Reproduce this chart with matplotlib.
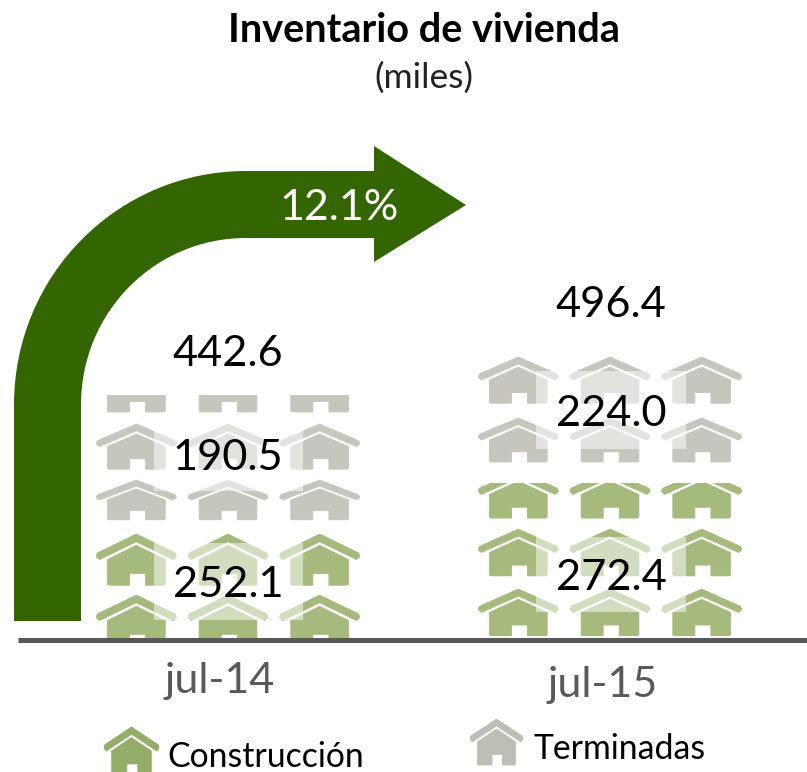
import matplotlib
matplotlib.use("Agg")
import matplotlib.pyplot as plt
from matplotlib.path import Path
from matplotlib.patches import PathPatch, Rectangle
from matplotlib.transforms import Affine2D

plt.rcParams['font.family'] = ['Lato', 'DejaVu Sans']

# ---- data -----
categories = ["jul-14", "jul-15"]
construccion = [252.1, 272.4]
terminadas = [190.5, 224.0]
totales = [442.6, 496.4]
variacion = "12.1%"
# rows of pictogram houses, (bottom, top) in thousands
filas_constr = [[(-14.5, 78), (96, 189)],
                [(4, 89), (113, 198), (218, 304)]]
filas_term = [[(215, 287), (307, 389), (411, 493)],
              [(320, 400), (427, 511)]]
tope_constr = [600, 282]
tope_term = [442.6, 600]
piso_term = [205, 310]

VERDE = "#A6BA7E"
GRIS = "#C6C6BE"
VERDE_LEY = "#94AD68"
GRIS_LEY = "#BEBEB6"
OSCURO = "#336600"
LINEA = "#595959"

W, H = 807, 772
fig = plt.figure(figsize=(W / 100, H / 100), dpi=100)

# chart axes: full figure, category x scale, value y scale
PX_X0, PX_X1, PX_BASE, K = 228.0, 610.0, 638.0, 0.55
ax = fig.add_axes([0, 0, 1, 1])
ux = PX_X1 - PX_X0
ax.set_xlim(-PX_X0 / ux, (W - PX_X0) / ux)
ax.set_ylim((PX_BASE - H) / K, PX_BASE / K)
ax.axis("off")

# overlay axes in pixels for annotations
ov = fig.add_axes([0, 0, 1, 1], facecolor="none")
ov.set_xlim(0, W)
ov.set_ylim(H, 0)
ov.axis("off")


def house_path():
    M, L, C = Path.MOVETO, Path.LINETO, Path.CLOSEPOLY
    roof = [(0.5, 1.0), (0.985, 0.63), (1.0, 0.56), (0.96, 0.50), (0.5, 0.85),
            (0.04, 0.50), (0.0, 0.56), (0.015, 0.63), (0.5, 1.0)]
    body = [(0.5, 0.78), (0.86, 0.50), (0.86, 0.02), (0.84, 0.0), (0.615, 0.0), (0.615, 0.23),
            (0.415, 0.23), (0.415, 0.0), (0.16, 0.0), (0.14, 0.02), (0.14, 0.50), (0.5, 0.78)]
    verts = roof + body
    codes = [M] + [L] * (len(roof) - 2) + [C] + [M] + [L] * (len(body) - 2) + [C]
    return Path(verts, codes)


HOUSE = house_path()
OFFSETS = [-0.24, 0.0, 0.24]
HW = 0.21


def draw_rows(i, rows, color, low, high):
    clip = Rectangle((i - 0.5, low), 1.0, high - low, transform=ax.transData)
    for b, t in rows:
        for off in OFFSETS:
            tr = Affine2D().scale(HW, t - b).translate(i + off - HW / 2, b) + ax.transData
            p = PathPatch(HOUSE, facecolor=color, edgecolor=color, lw=0.6, transform=tr)
            ax.add_patch(p)
            p.set_clip_path(clip)


for i in range(2):
    draw_rows(i, filas_constr[i], VERDE, 0, tope_constr[i])
    draw_rows(i, filas_term[i], GRIS, piso_term[i], tope_term[i])

ax.plot([(18 - PX_X0) / ux, (W - PX_X0) / ux], [-4, -4], color=LINEA, lw=3.6, solid_capstyle="butt")

# pale label boxes
for x0, x1, y0, y1 in [(154, 303, 423, 491), (154, 303, 543, 620),
                       (536, 686, 371, 449), (536, 686, 537, 612)]:
    ov.add_patch(Rectangle((x0, y0), x1 - x0, y1 - y0, fc="white", ec="none", alpha=0.5))

# big curved arrow
M, L, C4, CL = Path.MOVETO, Path.LINETO, Path.CURVE4, Path.CLOSEPOLY
verts = [(14, 621), (14, 405), (14, 275), (118, 171), (246, 171), (374, 171), (374, 146),
         (466, 205), (374, 262), (374, 238), (246, 238), (155, 238), (81, 312), (81, 405),
         (81, 621), (14, 621)]
codes = [M, L, C4, C4, C4, L, L, L, L, L, L, C4, C4, C4, L, CL]
ov.add_patch(PathPatch(Path(verts, codes), fc=OSCURO, ec="none"))
ov.text(339, 208, variacion, color="white", fontsize=31, ha="center", va="center")

# titles
ov.text(424, 30, "Inventario de vivienda", fontsize=28.5, fontweight="bold", ha="center", va="center", color="black")
ov.text(424, 78, "(miles)", fontsize=25.5, ha="center", va="center", color="#222222")

# value labels
LBL = 31.2
for i, xc in enumerate([228, 611]):
    ov.text(xc, [354, 305][i], f"{totales[i]:.1f}", fontsize=LBL, ha="center", va="center", color="black")
    ov.text(xc, [458, 414][i], f"{terminadas[i]:.1f}", fontsize=LBL, ha="center", va="center", color="black")
    ov.text(xc, [585, 578][i], f"{construccion[i]:.1f}", fontsize=LBL, ha="center", va="center", color="black")
    ov.text([220, 603][i], [681, 685][i], categories[i], fontsize=31, ha="center", va="center", color=LINEA)


# legend
def legend_house(x0, x1, top, bottom, color):
    tr = Affine2D().scale(x1 - x0, top - bottom).translate(x0, bottom) + ov.transData
    ov.add_patch(PathPatch(HOUSE, fc=color, ec=color, lw=0.6, transform=tr))


legend_house(104, 159, 727, 775, VERDE_LEY)
legend_house(470, 523, 719, 765, GRIS_LEY)
ov.text(167, 757, "Construcción", fontsize=24.3, ha="left", va="center", color="black")
ov.text(533, 749, "Terminadas", fontsize=24.3, ha="left", va="center", color="black")

fig.savefig("out.png", dpi=100)
